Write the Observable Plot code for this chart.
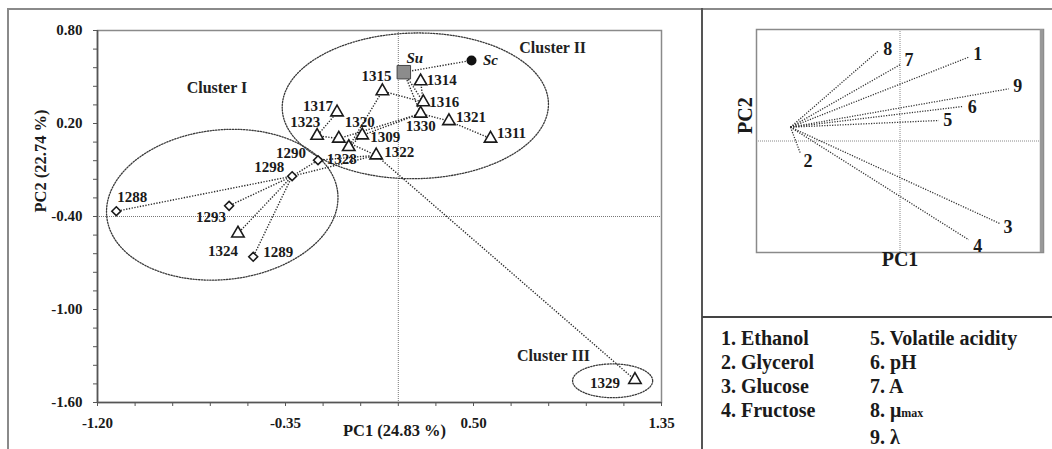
<!DOCTYPE html>
<html><head><meta charset="utf-8">
<script src="https://cdn.jsdelivr.net/npm/d3@7"></script>
<script src="https://cdn.jsdelivr.net/npm/@observablehq/plot@0.6"></script>
<style>
body{margin:0;background:#fff;}
#wrap{position:relative;width:1052px;height:449px;overflow:hidden;background:#fff;font-family:"Liberation Serif","Times New Roman",serif;font-weight:bold;color:#1a1a1a;}
.ln{position:absolute;background:#8a8a8a;}
#main,#bi{position:absolute;top:0;}
#main{left:0;} #bi{left:702px;}
#legend{position:absolute;left:721px;top:326px;font-size:20px;line-height:24px;display:grid;grid-template-columns:149px auto;white-space:nowrap;}
#legend .sm{font-size:12px;}
</style></head><body>
<div id="wrap">
 <div id="main"></div><div id="bi"></div><div id="legend"></div>
 <div class="ln" style="left:7px;top:8px;width:2px;height:441px"></div>
 <div class="ln" style="left:7px;top:8px;width:1045px;height:2px"></div>
 <div class="ln" style="left:701px;top:8px;width:2px;height:441px;background:#555"></div>
 <div class="ln" style="left:702px;top:316px;width:350px;height:2px;background:#444"></div>
</div>
<script>
// ---------- DATA ----------
const strainNames = ["1288","1293","1298","1290","1289","1324","1323","1317","1320","1309","1328","1322","1315","1314","1316","1330","1321","1311","1329","Su","Sc"];
const strainPC1 = [-1.115,-0.605,-0.320,-0.203,-0.496,-0.565,-0.207,-0.117,-0.109,-0.003,-0.064,0.060,0.088,0.261,0.273,0.261,0.389,0.577,1.230,0.185,0.491];
const strainPC2 = [-0.366,-0.331,-0.140,-0.037,-0.660,-0.509,0.121,0.272,0.103,0.124,0.049,-0.005,0.409,0.473,0.338,0.264,0.216,0.103,-1.454,0.531,0.607];
const strainGroup = ["diamond","diamond","diamond","diamond","diamond","triangle","triangle","triangle","triangle","triangle","triangle","triangle","triangle","triangle","triangle","triangle","triangle","triangle","triangle","Su","Sc"];
const edges = [["Su","Sc"],["Su","1316"],["Su","1330"],["1314","1316"],["1315","1316"],["1315","1328"],["1330","1321"],["1321","1311"],["1330","1320"],["1330","1309"],["1317","1323"],["1323","1320"],["1320","1322"],["1309","1328"],["1290","1322"],["1298","1322"],["1298","1290"],["1298","1288"],["1298","1293"],["1298","1324"],["1298","1289"],["1322","1329"]];

const clusterNames = ["Cluster I","Cluster II","Cluster III"];
const clusterCx = [-0.636, 0.237, 1.129];
const clusterCy = [-0.324, 0.314, -1.460];
const clusterRx = [0.525, 0.602, 0.181];
const clusterRy = [0.483, 0.470, 0.109];
const clusterAngle = [-6, -1, 0];
const clusterLabelX = [-0.66, 0.858, 0.862];
const clusterLabelY = [0.433, 0.69, -1.30];

const xMajor = [-1.2, -0.35, 0.5, 1.35];
const xMinor = [-1.2,-1.03,-0.86,-0.69,-0.52,-0.35,-0.18,-0.01,0.16,0.33,0.5,0.67,0.84,1.01,1.18,1.35];
const yMajor = [-1.6, -1.0, -0.4, 0.2, 0.8];
const yMinor = [-1.6,-1.48,-1.36,-1.24,-1.12,-1.0,-0.88,-0.76,-0.64,-0.52,-0.4,-0.28,-0.16,-0.04,0.08,0.2,0.32,0.44,0.56,0.68,0.8];
const refX = 0.16, refY = -0.40;

const varNumbers = ["1","2","3","4","5","6","7","8","9"];
const varNames = ["Ethanol","Glycerol","Glucose","Fructose","Volatile acidity","pH","A","μmax","λ"];
const loadU = [0.479,-0.693,0.700,0.479,0.270,0.433,0.003,-0.148,0.758];
const loadV = [0.752,-0.115,-0.743,-0.886,0.184,0.309,0.686,0.812,0.468];
const loadOrigin = [-0.763, 0.124];

// ---------- label placement (styling) ----------
const labelOffset = {"1288":[16,-14],"1293":[-18,11],"1298":[-23,-9],"1290":[-27,-7],"1289":[25,-5],"1324":[-15,18],
 "1323":[-12,-14],"1317":[-19,-6],"1320":[21,-16],"1309":[23,2],"1328":[-7,12],"1322":[23,-3],"1315":[-6,-15],
 "1314":[21,-1],"1316":[21,0],"1330":[0,13],"1321":[22,-4],"1311":[21,-5],"1329":[-30,3],"Su":[11,-14],"Sc":[19,0]};
const vecLabelOffset = [[9,-3],[7.5,7],[7.5,3],[9,6],[9,0],[10,1],[8.5,-4],[9,-1],[9,-3]];

// ---------- build ----------
const points = strainNames.map((n,i)=>({name:n,x:strainPC1[i],y:strainPC2[i],group:strainGroup[i]}));
const P = Object.fromEntries(points.map(p=>[p.name,p]));
const edgeData = edges.map(([a,b])=>({x1:P[a].x,y1:P[a].y,x2:P[b].x,y2:P[b].y}));
const kx = 221.1, ky = 155.3;
const ellipsePts = [];
clusterNames.forEach((n,i)=>{
  const a = clusterAngle[i]*Math.PI/180;
  for(let k=0;k<=144;k++){
    const t = k/144*2*Math.PI;
    const u = clusterRx[i]*kx*Math.cos(t), v = clusterRy[i]*ky*Math.sin(t);
    const X = u*Math.cos(a)-v*Math.sin(a), Y = u*Math.sin(a)+v*Math.cos(a);
    ellipsePts.push({cluster:n, x:clusterCx[i]+X/kx, y:clusterCy[i]-Y/ky});
  }
});
const clusters = clusterNames.map((n,i)=>({name:n,x:clusterLabelX[i],y:clusterLabelY[i]}));

const txt = "#1a1a1a";
const dotted = {stroke:"#2a2a2a", strokeWidth:1.4, strokeDasharray:"1.3,1.5"};
const main = Plot.plot({
  width:702, height:449,
  marginLeft:97, marginRight:41, marginTop:30, marginBottom:47,
  x:{domain:[-1.2,1.35], axis:null, label:null},
  y:{domain:[-1.6,0.8], axis:null, label:null},
  style:{fontFamily:"Liberation Serif, Times New Roman, serif", fontWeight:"bold", fontSize:"15px", color:txt, background:"transparent"},
  marks:[
    Plot.frame({stroke:"#8a8a8a", strokeWidth:1.5}),
    Plot.ruleX([refX], {stroke:"#777", strokeWidth:1, strokeDasharray:"1,1"}),
    Plot.ruleY([refY], {stroke:"#777", strokeWidth:1, strokeDasharray:"1,1"}),
    Plot.line(ellipsePts, {x:"x", y:"y", z:"cluster", stroke:"#3a3a3a", strokeWidth:1.3, strokeDasharray:"1.3,1.5"}),
    Plot.link(edgeData, {x1:"x1", y1:"y1", x2:"x2", y2:"y2", ...dotted}),
    Plot.ruleX([-1.2], {stroke:"#555", strokeWidth:1.6}),
    Plot.ruleY([-1.6], {stroke:"#555", strokeWidth:1.6}),
    Plot.axisX({ticks:xMinor, tickSize:4, tickFormat:()=>"", stroke:"#555", label:null}),
    Plot.axisX({ticks:xMajor, tickSize:4, tickPadding:11, tickFormat:d=>d.toFixed(2), stroke:"#555", fill:txt, label:null}),
    Plot.axisY({ticks:yMinor, tickSize:4, tickFormat:()=>"", stroke:"#555", label:null}),
    Plot.axisY({ticks:yMajor, tickSize:4, tickPadding:11, tickFormat:d=>d.toFixed(2), stroke:"#555", fill:txt, label:null}),
    Plot.dot(points.filter(p=>p.group==="diamond"), {x:"x", y:"y", symbol:"diamond2", r:4, fill:"white", stroke:"#1a1a1a", strokeWidth:1.6}),
    Plot.dot(points.filter(p=>p.group==="triangle"), {x:"x", y:"y", symbol:"triangle", r:4.6, fill:"white", stroke:"#1a1a1a", strokeWidth:1.6}),
    Plot.dot(points.filter(p=>p.group==="Su"), {x:"x", y:"y", symbol:"square", r:7.6, fill:"#8c8c8c", stroke:"#444", strokeWidth:1}),
    Plot.dot(points.filter(p=>p.group==="Sc"), {x:"x", y:"y", symbol:"circle", r:5, fill:"#111"}),
    ...points.map(p=>Plot.text([p], {x:"x", y:"y", text:"name", dx:labelOffset[p.name][0], dy:labelOffset[p.name][1], fill:txt, fontSize:15,
        fontStyle:(p.group==="Su"||p.group==="Sc")?"italic":"normal"})),
    Plot.text(clusters, {x:"x", y:"y", text:"name", fontSize:16, fill:"#222"}),
    Plot.text(["PC1 (24.83 %)"], {text:d=>d, frameAnchor:"bottom", dx:15, dy:33, fontSize:16.5, fill:txt}),
    Plot.text(["PC2 (22.74 %)"], {text:d=>d, frameAnchor:"left", dx:-57, dy:-4, rotate:-90, fontSize:16.5, fill:txt})
  ]
});
document.getElementById("main").append(main);

const vectors = varNumbers.map((n,i)=>({n, u:loadU[i], v:loadV[i], u0:loadOrigin[0], v0:loadOrigin[1]}));
const bi = Plot.plot({
  width:350, height:317,
  marginLeft:54, marginRight:9, marginTop:29, marginBottom:65,
  x:{domain:[-1,1], axis:null, label:null},
  y:{domain:[-1,1], axis:null, label:null},
  style:{fontFamily:"Liberation Serif, Times New Roman, serif", fontWeight:"bold", fontSize:"18px", color:txt, background:"transparent"},
  marks:[
    Plot.frame({stroke:"#8a8a8a", strokeWidth:1.5}),
    Plot.ruleX([0], {stroke:"#888", strokeWidth:1, strokeDasharray:"1,1"}),
    Plot.ruleY([0], {stroke:"#888", strokeWidth:1, strokeDasharray:"1,1"}),
    Plot.ruleX([1], {stroke:"#999", strokeWidth:3.5, dx:-2}),
    Plot.link(vectors, {x1:"u0", y1:"v0", x2:"u", y2:"v", stroke:"#333", strokeWidth:1.3, strokeDasharray:"1.2,1.4"}),
    ...vectors.map((d,i)=>Plot.text([d], {x:"u", y:"v", text:"n", dx:vecLabelOffset[i][0], dy:vecLabelOffset[i][1], fontSize:18, fill:txt})),
    Plot.text(["PC1"], {text:d=>d, frameAnchor:"bottom", dy:13, fontSize:20, fill:txt}),
    Plot.text(["PC2"], {text:d=>d, frameAnchor:"left", dx:-11, dy:-7, rotate:-90, fontSize:20, fill:txt})
  ]
});
document.getElementById("bi").append(bi);

// legend
const leg = document.getElementById("legend");
const half = 4;
const rows = Math.max(half, varNames.length - half);
function item(i){
  if(i === undefined || i >= varNames.length) return "<div></div>";
  const nm = varNames[i];
  const html = nm === "μmax" ? 'μ<span class="sm">max</span>' : nm;
  return `<div>${varNumbers[i]}. ${html}</div>`;
}
let h = "";
for(let r=0;r<rows;r++){ h += (r<half?item(r):"<div></div>") + item(half+r); }
leg.innerHTML = h;
</script>
</body></html>
